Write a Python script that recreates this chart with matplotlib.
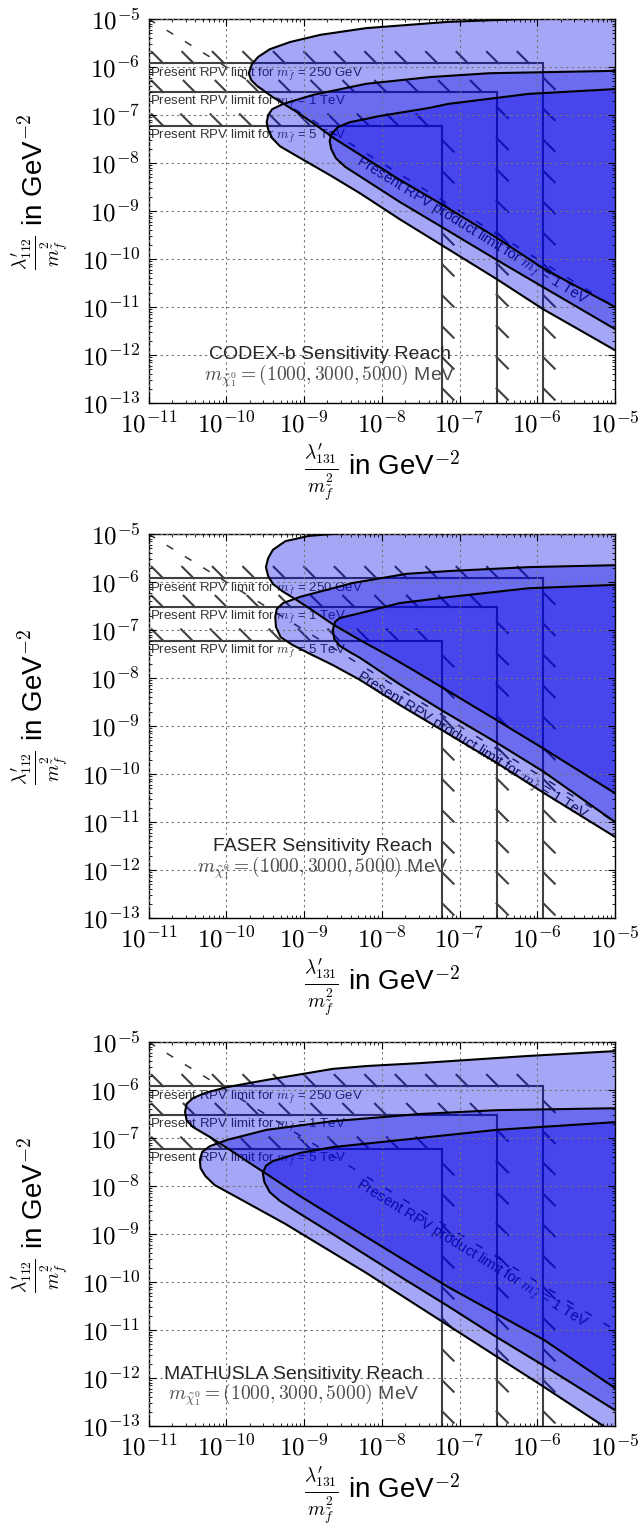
import numpy as np
import matplotlib
matplotlib.use("Agg")
import matplotlib.pyplot as plt
from matplotlib import patheffects as pe
from matplotlib.ticker import LogLocator, FuncFormatter, NullFormatter

# ---------------- data (log10 of coordinates) ----------------
# region boundaries: upper edge from nose outward, lower edge from nose outward
# CODEX-b
codex_r1_up_lx = [-9.71, -9.67, -9.59, -9.44, -9.18, -8.79, -8.20, -7.15, -6.16, -5.19, -4.68]
codex_r1_up_ly = [-6.13, -5.94, -5.79, -5.63, -5.48, -5.33, -5.19, -5.06, -5.00, -4.94, -4.92]
codex_r1_lo_lx = [-9.68, -9.60, -9.40, -9.09, -8.83, -8.60, -7.77, -7.21, -6.52, -5.93, -5.00, -4.68]
codex_r1_lo_ly = [-6.27, -6.40, -6.63, -6.94, -7.23, -7.50, -8.35, -8.88, -9.56, -10.19, -11.00, -11.31]
codex_r2_up_lx = [-9.48, -9.46, -9.41, -9.27, -8.88, -8.20, -7.38, -6.62, -5.00, -4.68]
codex_r2_up_ly = [-7.15, -7.00, -6.88, -6.77, -6.58, -6.35, -6.21, -6.13, -6.08, -6.08]
codex_r2_lo_lx = [-9.46, -9.41, -9.31, -9.12, -8.67, -8.28, -7.77, -7.21, -6.52, -5.93, -5.00, -4.68]
codex_r2_lo_ly = [-7.31, -7.48, -7.65, -7.83, -8.25, -8.63, -9.17, -9.73, -10.42, -11.04, -11.90, -12.21]
codex_r3_up_lx = [-8.67, -8.64, -8.56, -8.41, -8.02, -7.38, -7.15, -6.11, -5.00, -4.68]
codex_r3_up_ly = [-7.54, -7.38, -7.25, -7.15, -7.02, -6.85, -6.77, -6.56, -6.46, -6.44]
codex_r3_lo_lx = [-8.65, -8.59, -8.47, -7.77, -7.21, -6.52, -5.93, -5.00, -4.68]
codex_r3_lo_ly = [-7.71, -7.90, -8.08, -8.81, -9.35, -10.02, -10.58, -11.46, -11.75]

# FASER
faser_r1_up_lx = [-9.49, -9.46, -9.40, -9.24, -8.94, -8.56, -7.77, -4.68]
faser_r1_up_ly = [-5.69, -5.50, -5.33, -5.15, -5.04, -4.99, -4.90, -4.71]
faser_r1_lo_lx = [-9.46, -9.40, -9.28, -9.09, -8.92, -8.63, -8.28, -7.93, -7.60, -7.25, -6.52, -5.93, -5.00, -4.68]
faser_r1_lo_ly = [-5.88, -6.04, -6.19, -6.38, -6.56, -6.88, -7.21, -7.52, -7.83, -8.17, -8.88, -9.46, -10.40, -10.71]
faser_r2_up_lx = [-9.37, -9.35, -9.27, -9.05, -8.63, -8.37, -7.68, -7.12, -6.11, -5.00, -4.68]
faser_r2_up_ly = [-6.73, -6.56, -6.44, -6.31, -6.13, -6.02, -5.83, -5.77, -5.69, -5.65, -5.65]
faser_r2_lo_lx = [-9.36, -9.30, -9.15, -8.92, -8.63, -8.28, -7.77, -7.21, -6.52, -5.93, -5.00, -4.68]
faser_r2_lo_ly = [-6.94, -7.15, -7.31, -7.50, -7.73, -8.04, -8.56, -9.10, -9.77, -10.38, -11.31, -11.63]
faser_r3_up_lx = [-8.63, -8.60, -8.54, -8.28, -7.77, -7.12, -6.11, -5.00, -4.68]
faser_r3_up_ly = [-7.00, -6.83, -6.75, -6.65, -6.44, -6.31, -6.13, -6.06, -6.04]
faser_r3_lo_lx = [-8.61, -8.54, -8.41, -8.28, -7.77, -7.21, -6.52, -5.93, -5.00, -4.68]
faser_r3_lo_ly = [-7.19, -7.33, -7.46, -7.58, -8.13, -8.69, -9.35, -9.94, -11.00, -11.31]

# MATHUSLA
mathusla_r1_up_lx = [-10.53, -10.51, -10.43, -10.27, -9.99, -9.48, -8.96, -8.63, -8.19, -7.51, -6.11, -5.00, -4.68]
mathusla_r1_up_ly = [-6.46, -6.29, -6.17, -6.06, -5.94, -5.79, -5.65, -5.56, -5.50, -5.44, -5.29, -5.19, -5.17]
mathusla_r1_lo_lx = [-10.51, -10.43, -10.21, -9.95, -9.70, -9.50, -9.05, -8.20, -7.15, -5.91, -5.00, -4.68]
mathusla_r1_lo_ly = [-6.63, -6.77, -6.98, -7.25, -7.52, -7.73, -8.21, -9.06, -10.10, -11.21, -12.21, -12.52]
mathusla_r2_up_lx = [-10.34, -10.31, -10.21, -9.99, -9.48, -8.63, -7.51, -6.52, -5.00, -4.68]
mathusla_r2_up_ly = [-7.46, -7.29, -7.17, -7.04, -6.83, -6.65, -6.50, -6.42, -6.38, -6.38]
mathusla_r2_lo_lx = [-10.33, -10.27, -10.15, -9.89, -9.24, -8.20, -7.15, -5.91, -5.15, -4.68]
mathusla_r2_lo_ly = [-7.63, -7.79, -7.98, -8.21, -8.79, -9.81, -10.90, -12.19, -13.00, -13.50]
mathusla_r3_up_lx = [-9.53, -9.49, -9.40, -9.05, -8.63, -7.51, -6.52, -5.00, -4.68]
mathusla_r3_up_ly = [-7.73, -7.58, -7.48, -7.31, -7.19, -7.00, -6.83, -6.67, -6.65]
mathusla_r3_lo_lx = [-9.51, -9.44, -9.31, -9.05, -8.67, -7.77, -7.15, -6.52, -5.91, -5.00, -4.68]
mathusla_r3_lo_ly = [-7.92, -8.13, -8.31, -8.58, -8.96, -9.88, -10.50, -11.15, -11.75, -12.67, -12.98]

# present single-coupling limits (same value on both axes) and sfermion masses
limit_values = [1.2e-6, 3.0e-7, 6.0e-8]
limit_masses = ["250 GeV", "1 TeV", "5 TeV"]
# product limit lambda'_131 * lambda'_112 / m^4 for m = 1 TeV
product_limit = 1e-16

experiments = ["CODEX-b", "FASER", "MATHUSLA"]
neutralino_masses = "(1000, 3000, 5000)"
# annotation anchor (log10 x, log10 y of first line) per panel
title_lx = [-8.67, -8.76, -9.13]
title_ly = [-12.00, -11.52, -11.93]

# ---------------- figure ----------------
plt.rcParams['font.family'] = ['Liberation Sans', 'DejaVu Sans']
plt.rcParams['mathtext.fontset'] = 'cm'

W, H = 638, 1526
fig = plt.figure(figsize=(W / 100, H / 100), dpi=100)
fig.patch.set_facecolor('white')
panels_px = [(19, 403), (534, 918), (1042, 1426)]
left_px, right_px = 148.5, 615.0

regions = {
    "CODEX-b": [(codex_r1_up_lx, codex_r1_up_ly, codex_r1_lo_lx, codex_r1_lo_ly),
                (codex_r2_up_lx, codex_r2_up_ly, codex_r2_lo_lx, codex_r2_lo_ly),
                (codex_r3_up_lx, codex_r3_up_ly, codex_r3_lo_lx, codex_r3_lo_ly)],
    "FASER": [(faser_r1_up_lx, faser_r1_up_ly, faser_r1_lo_lx, faser_r1_lo_ly),
              (faser_r2_up_lx, faser_r2_up_ly, faser_r2_lo_lx, faser_r2_lo_ly),
              (faser_r3_up_lx, faser_r3_up_ly, faser_r3_lo_lx, faser_r3_lo_ly)],
    "MATHUSLA": [(mathusla_r1_up_lx, mathusla_r1_up_ly, mathusla_r1_lo_lx, mathusla_r1_lo_ly),
                 (mathusla_r2_up_lx, mathusla_r2_up_ly, mathusla_r2_lo_lx, mathusla_r2_lo_ly),
                 (mathusla_r3_up_lx, mathusla_r3_up_ly, mathusla_r3_lo_lx, mathusla_r3_lo_ly)],
}

fill_color = (0.0, 0.0, 0.9)
XMIN, XMAX, YMIN, YMAX = 1e-11, 1e-5, 1e-13, 1e-5

def fmt(v, pos):
    return r"$10^{%d}$" % int(round(np.log10(v)))

for i, exp in enumerate(experiments):
    top, bot = panels_px[i]
    ax = fig.add_axes([left_px / W, 1 - bot / H, (right_px - left_px) / W, (bot - top) / H])
    ax.set_xscale('log')
    ax.set_yscale('log')
    ax.set_xlim(XMIN, XMAX)
    ax.set_ylim(YMIN, YMAX)

    # sensitivity regions
    for (ulx, uly, llx, lly) in regions[exp]:
        lx = np.concatenate([np.array(ulx)[::-1], np.array(llx)])
        ly = np.concatenate([np.array(uly)[::-1], np.array(lly)])
        xs, ys = 10.0 ** lx, 10.0 ** ly
        ax.fill(xs, ys, facecolor=fill_color, alpha=0.35, edgecolor='none', zorder=2)
        ax.plot(xs, ys, color='black', lw=1.5, zorder=3, solid_joinstyle='round')

    # present single-coupling limits
    for lim, mlab in zip(limit_values, limit_masses):
        ax.plot([XMIN, lim], [lim, lim], color='0.25', lw=1.5, zorder=1,
                path_effects=[pe.withTickedStroke(angle=135, spacing=21, length=0.55)])
        ax.plot([lim, lim], [lim, YMIN], color='0.25', lw=1.5, zorder=1,
                path_effects=[pe.withTickedStroke(angle=45, spacing=21, length=0.55)])
        ax.text(XMIN * 10 ** 0.02, lim * 10 ** (-0.045),
                r"Present RPV limit for $m_{\tilde{f}}$ = " + mlab,
                ha='left', va='top', fontsize=9.5, color='0.2', zorder=1)

    # product limit
    px = np.array([XMIN, XMAX])
    py = product_limit / px
    ax.plot(px, py, color='0.2', lw=1.1, ls=(0, (5, 9)), zorder=1)
    ax.plot(px, py, color='0.2', lw=1.0, alpha=0.0001, zorder=1,
            path_effects=[pe.TickedStroke(angle=150, spacing=13, length=0.6)])
    p1 = ax.transData.transform((1e-9, product_limit / 1e-9))
    p2 = ax.transData.transform((1e-7, product_limit / 1e-7))
    ang = np.degrees(np.arctan2(p2[1] - p1[1], p2[0] - p1[0]))
    tx = 10 ** -6.85
    ax.text(tx, product_limit / tx * 10 ** (-0.27),
            r"Present RPV product limit for $m_{\tilde{f}}$ = 1 TeV",
            rotation=ang, rotation_mode='anchor', ha='center', va='center',
            fontsize=10.5, color='0.1', zorder=1)

    # annotations
    ax.text(10 ** title_lx[i], 10 ** title_ly[i], exp + " Sensitivity Reach",
            ha='center', va='center', fontsize=14, color='0.15', zorder=5)
    ax.text(10 ** title_lx[i], 10 ** (title_ly[i] - 0.42),
            r"$m_{\tilde{\chi}_1^0} = " + neutralino_masses + r"$ MeV",
            ha='center', va='center', fontsize=14, color='0.3', zorder=5)

    # grid and ticks
    ax.grid(True, which='major', ls=(0, (2, 3)), color='0.45', lw=0.8, zorder=4)
    ax.set_axisbelow(False)
    for axis in (ax.xaxis, ax.yaxis):
        axis.set_major_locator(LogLocator(base=10, numticks=20))
        axis.set_minor_locator(LogLocator(base=10, subs=np.arange(2, 10), numticks=20))
        axis.set_major_formatter(FuncFormatter(fmt))
        axis.set_minor_formatter(NullFormatter())
    ax.tick_params(which='both', direction='in', top=True, right=True, labelsize=18, pad=6)
    ax.tick_params(which='major', length=5, width=0.8)
    ax.tick_params(which='minor', length=2.5, width=0.6)
    for s in ax.spines.values():
        s.set_linewidth(1.0)

    ax.set_xlabel(r"$\frac{\lambda^{\prime}_{131}}{m^2_{\tilde{f}}}$ in GeV$^{-2}$", fontsize=20)
    ax.set_ylabel(r"$\frac{\lambda^{\prime}_{112}}{m^2_{\tilde{f}}}$ in GeV$^{-2}$", fontsize=20)
    ax.xaxis.set_label_coords(0.5, -0.100)
    ax.yaxis.set_label_coords(-0.165, 0.55)

fig.savefig("out.png", dpi=100, facecolor='white')
